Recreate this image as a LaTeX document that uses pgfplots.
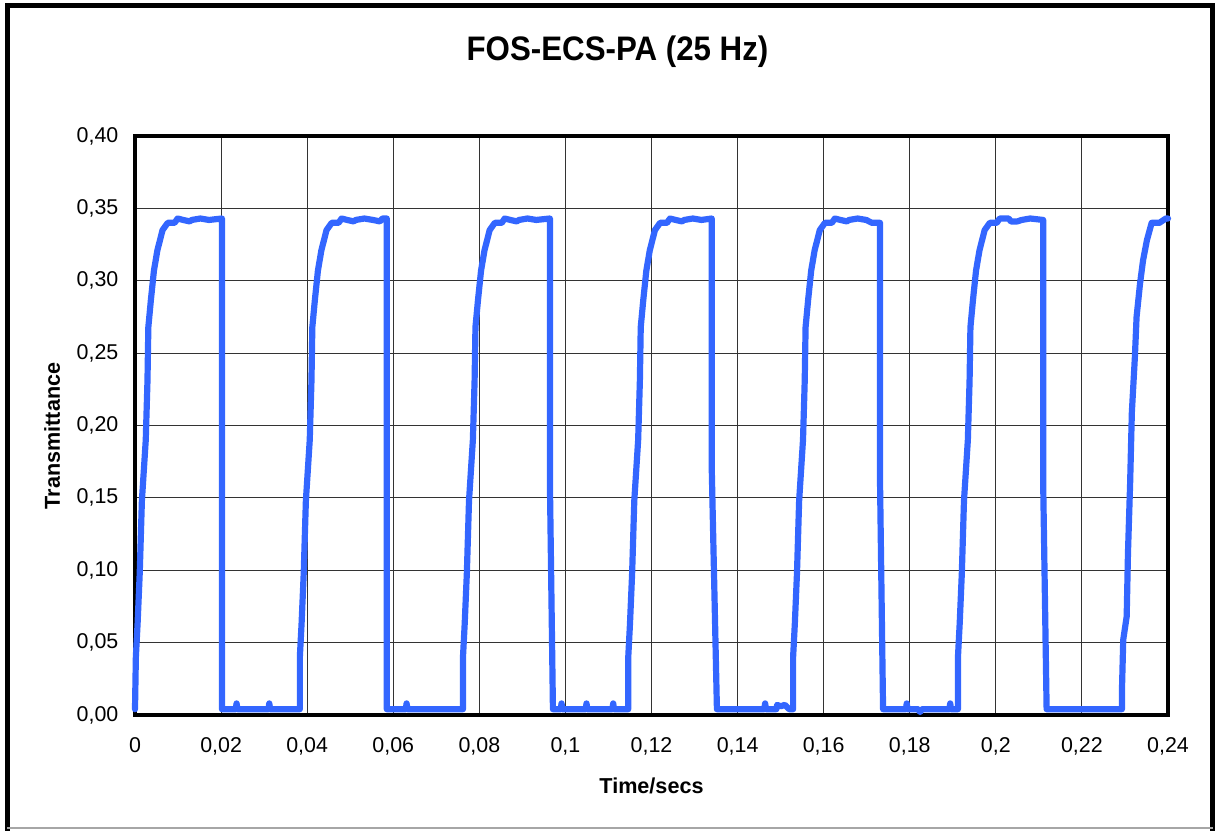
\documentclass[border=0pt]{standalone}
\usepackage{fontspec}
\setmainfont{Liberation Sans}
\usepackage{graphicx}
\usepackage{pgfplots}
\pgfplotsset{compat=1.18}
\definecolor{lineblue}{RGB}{51,102,255}
\begin{document}
\begin{tikzpicture}
\useasboundingbox (-67.5bp,-58bp) rectangle (540bp,357.5bp);
\begin{axis}[
  at={(0,0)}, anchor=south west, scale only axis,
  width=516.5bp, height=289.5bp,
  xmin=0, xmax=0.24, ymin=0, ymax=0.40,
  xtick={0,0.02,0.04,0.06,0.08,0.1,0.12,0.14,0.16,0.18,0.2,0.22,0.24},
  ytick={0,0.05,0.10,0.15,0.20,0.25,0.30,0.35,0.40},
  scaled x ticks=false, scaled y ticks=false,
  grid=major,
  major grid style={black!80, line width=0.55bp},
  axis line style={line width=2bp, black},
  major tick length=0pt,
  clip=false,
  tick label style={font=\fontsize{10.7bp}{12bp}\selectfont},
  /pgf/number format/assume math mode=true,
  xticklabel style={/pgf/number format/.cd, fixed, precision=2, use comma, /tikz/.cd, yshift=-8bp},
  yticklabel style={/pgf/number format/.cd, fixed, fixed zerofill, precision=2, use comma, /tikz/.cd, xshift=-4.8bp},
  xlabel={Time/secs},
  ylabel={Transmittance},
  xlabel style={at={(axis description cs:0.5,-0.1364)}, anchor=base, font=\fontsize{10.8bp}{12bp}\selectfont\bfseries},
  ylabel style={at={(axis description cs:-0.0726,0.482)}, anchor=base, rotate=0, font=\fontsize{10.8bp}{12bp}\selectfont\bfseries},
]
\addplot[lineblue, line width=3.1bp, line join=round, line cap=round] coordinates {
(0,0.004) (0.0002,0.040) (0.0006,0.063) (0.0011,0.098) (0.0016,0.148) (0.0025,0.190)
(0.0029,0.231) (0.0031,0.268) (0.0037,0.287) (0.0044,0.307) (0.0052,0.321) (0.0064,0.335)
(0.0076,0.340) (0.0092,0.340) (0.0099,0.343) (0.0112,0.342) (0.0127,0.341) (0.0132,0.342)
(0.0152,0.343) (0.0172,0.342) (0.0202,0.343) (0.0202,0.004)
(0.0234,0.004) (0.0236,0.008) (0.0238,0.004) (0.0310,0.004) (0.0312,0.008) (0.0314,0.004)
(0.0383,0.004) (0.0383,0.040) (0.0387,0.063) (0.0392,0.098) (0.0397,0.148) (0.0406,0.190)
(0.0410,0.231) (0.0412,0.268) (0.0418,0.287) (0.0425,0.307) (0.0433,0.321) (0.0445,0.335)
(0.0457,0.340) (0.0473,0.340) (0.0480,0.343) (0.0493,0.342) (0.0508,0.341) (0.0513,0.342)
(0.0533,0.343) (0.0553,0.342) (0.0569,0.341) (0.0575,0.343) (0.0585,0.343) (0.0585,0.004)
(0.0629,0.004) (0.0631,0.008) (0.0633,0.004)
(0.0762,0.004) (0.0762,0.040) (0.0766,0.063) (0.0771,0.098) (0.0776,0.148) (0.0785,0.190)
(0.0789,0.231) (0.0791,0.268) (0.0797,0.287) (0.0804,0.307) (0.0812,0.321) (0.0824,0.335)
(0.0836,0.340) (0.0852,0.340) (0.0859,0.343) (0.0872,0.342) (0.0887,0.341) (0.0892,0.342)
(0.0912,0.343) (0.0932,0.342) (0.0964,0.343) (0.0964,0.160) (0.0971,0.004)
(0.0989,0.004) (0.0991,0.008) (0.0993,0.004) (0.1047,0.004) (0.1049,0.008) (0.1051,0.004)
(0.1109,0.004) (0.1111,0.008) (0.1113,0.004)
(0.1146,0.004) (0.1146,0.040) (0.1150,0.063) (0.1155,0.098) (0.1160,0.148) (0.1169,0.190)
(0.1173,0.231) (0.1175,0.268) (0.1181,0.287) (0.1188,0.307) (0.1196,0.321) (0.1208,0.335)
(0.1220,0.340) (0.1236,0.340) (0.1243,0.343) (0.1256,0.342) (0.1271,0.341) (0.1276,0.342)
(0.1296,0.343) (0.1316,0.342) (0.1340,0.343) (0.1340,0.170) (0.1352,0.004)
(0.1462,0.004) (0.1464,0.008) (0.1466,0.004) (0.1490,0.004) (0.1492,0.007) (0.1500,0.006)
(0.1510,0.007) (0.1520,0.004)
(0.1529,0.004) (0.1529,0.040) (0.1533,0.063) (0.1538,0.098) (0.1543,0.148) (0.1552,0.190)
(0.1556,0.231) (0.1558,0.268) (0.1564,0.287) (0.1571,0.307) (0.1579,0.321) (0.1591,0.335)
(0.1603,0.340) (0.1619,0.340) (0.1626,0.343) (0.1639,0.342) (0.1654,0.341) (0.1659,0.342)
(0.1679,0.343) (0.1699,0.342) (0.1712,0.340) (0.1731,0.340) (0.1731,0.160) (0.1738,0.004)
(0.1791,0.004) (0.1793,0.008) (0.1795,0.004) (0.1820,0.004) (0.1824,0.002) (0.1828,0.004)
(0.1892,0.004) (0.1894,0.008) (0.1896,0.004)
(0.1912,0.004) (0.1912,0.040) (0.1916,0.063) (0.1921,0.098) (0.1926,0.148) (0.1935,0.190)
(0.1939,0.231) (0.1941,0.268) (0.1947,0.287) (0.1954,0.307) (0.1962,0.321) (0.1974,0.335)
(0.1986,0.340) (0.2002,0.340) (0.2009,0.343) (0.2030,0.343) (0.2035,0.341) (0.2050,0.341)
(0.2060,0.342) (0.2080,0.343) (0.2110,0.342) (0.2110,0.160) (0.2118,0.004)
(0.2293,0.004) (0.2293,0.017) (0.2296,0.052) (0.2304,0.068) (0.2307,0.112) (0.2312,0.160)
(0.2316,0.209) (0.2323,0.247) (0.2327,0.275) (0.2335,0.298) (0.2342,0.314) (0.2351,0.328)
(0.2362,0.340) (0.2380,0.340) (0.2395,0.343) (0.2400,0.343)
};
\end{axis}
\node[anchor=base] at (241.25bp,327bp) {\fontsize{17bp}{20bp}\selectfont\bfseries\scalebox{0.92}[1]{FOS-ECS-PA (25 Hz)}};
\draw[line width=2.5bp, line cap=rect] (-63.75bp,-56.5bp) -- (-63.75bp,354.75bp) -- (538.75bp,354.75bp) -- (538.75bp,-56.5bp);
\draw[gray!70, line width=0.75bp] (-63.75bp,-56.5bp) -- (538.75bp,-56.5bp);
\end{tikzpicture}
\end{document}
